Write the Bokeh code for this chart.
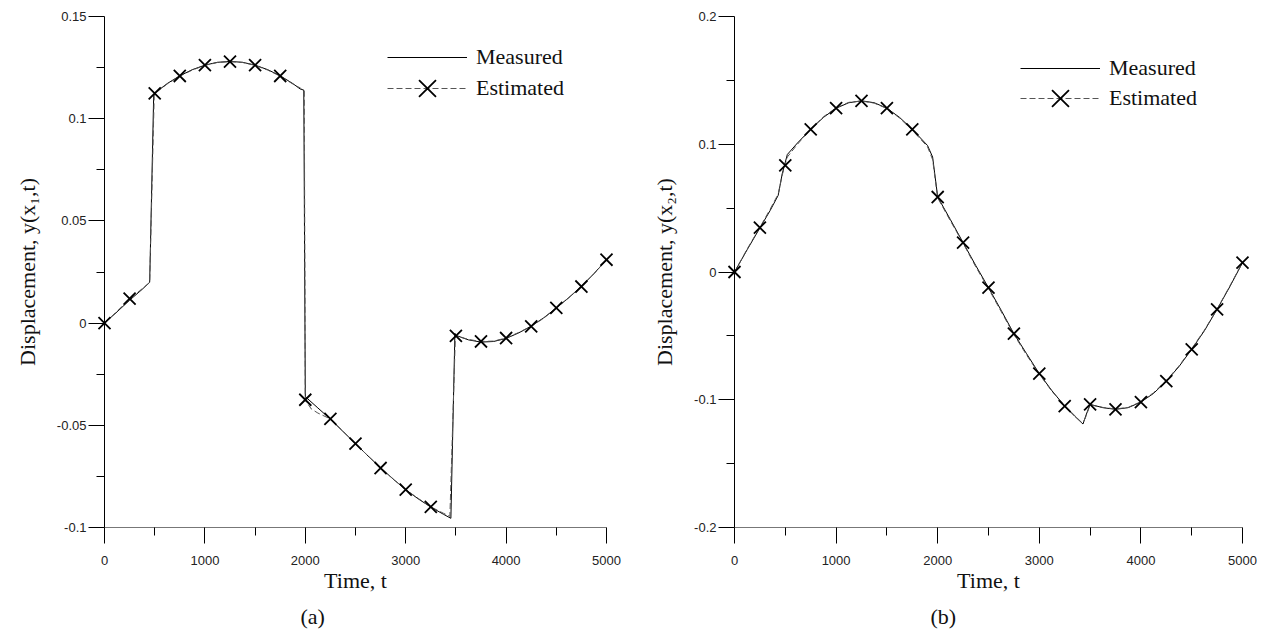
from bokeh.plotting import figure
from bokeh.layouts import row
from bokeh.models import (Range1d, FixedTicker, Legend, LegendItem, Title,
                          CustomJSTickFormatter)
from bokeh.embed import file_html
from bokeh.resources import INLINE

# ---------------- data: panel (a) ----------------
meas_a_t = [0, 125, 250, 375, 450, 490, 500, 625, 750, 875, 1000, 1125, 1250, 1375,
            1500, 1625, 1750, 1875, 1950, 1985, 2000, 2125, 2250, 2375, 2500, 2625,
            2750, 2875, 3000, 3125, 3250, 3375, 3450, 3490, 3500, 3625, 3750, 3875,
            4000, 4125, 4250, 4375, 4500, 4625, 4750, 4875, 5000]
meas_a_v = [0, 0.0055, 0.0112, 0.0165, 0.0200, 0.1115, 0.1125, 0.1172, 0.1210, 0.1240,
            0.1262, 0.1276, 0.1280, 0.1276, 0.1262, 0.1240, 0.1210, 0.1172, 0.1145,
            0.1140, -0.0360, -0.0415, -0.0470, -0.0530, -0.0590, -0.0650, -0.0708,
            -0.0763, -0.0815, -0.0860, -0.0900, -0.0935, -0.0955, -0.0050, -0.0060,
            -0.0082, -0.0093, -0.0090, -0.0075, -0.0048, -0.0015, 0.0026, 0.0074,
            0.0125, 0.0180, 0.0242, 0.0310]
est_a_t = [0, 125, 250, 375, 450, 495, 500, 625, 750, 875, 1000, 1125, 1250, 1375,
           1500, 1625, 1750, 1875, 1950, 1990, 2000, 2060, 2125, 2250, 2375, 2500, 2625,
           2750, 2875, 3000, 3125, 3250, 3375, 3440, 3495, 3500, 3625, 3750, 3875,
           4000, 4125, 4250, 4375, 4500, 4625, 4750, 4875, 5000]
est_a_v = [0, 0.0058, 0.0118, 0.0168, 0.0198, 0.1110, 0.1122, 0.1170, 0.1208, 0.1238,
           0.1261, 0.1275, 0.1279, 0.1275, 0.1261, 0.1238, 0.1208, 0.1170, 0.1150,
           0.1135, -0.0378, -0.0420, -0.0440, -0.0469, -0.0528, -0.0590, -0.0650,
           -0.0709, -0.0762, -0.0815, -0.0858, -0.0899, -0.0930, -0.0945, -0.0060,
           -0.0062, -0.0080, -0.0090, -0.0088, -0.0073, -0.0046, -0.0016, 0.0024,
           0.0074, 0.0124, 0.0179, 0.0241, 0.0310]
mark_t = [0, 250, 500, 750, 1000, 1250, 1500, 1750, 2000, 2250, 2500, 2750, 3000,
          3250, 3500, 3750, 4000, 4250, 4500, 4750, 5000]
mark_a = [0, 0.0120, 0.1124, 0.1209, 0.1262, 0.1279, 0.1262, 0.1209, -0.0375, -0.0469,
          -0.0590, -0.0709, -0.0815, -0.0899, -0.0062, -0.0090, -0.0073, -0.0016,
          0.0074, 0.0179, 0.0310]

# ---------------- data: panel (b) ----------------
meas_b_t = [0, 125, 250, 350, 430, 470, 520, 620, 750, 875, 1000, 1125, 1250, 1375,
            1500, 1625, 1750, 1900, 1950, 2000, 2125, 2250, 2375, 2500, 2625, 2750,
            2875, 3000, 3125, 3250, 3350, 3430, 3460, 3500, 3625, 3750, 3875, 4000,
            4125, 4250, 4375, 4500, 4625, 4750, 4875, 5000]
meas_b_v = [0, 0.0175, 0.0345, 0.0480, 0.0600, 0.0770, 0.0920, 0.1010, 0.1117, 0.1210,
            0.1282, 0.1325, 0.1340, 0.1325, 0.1282, 0.1210, 0.1117, 0.0990, 0.0900,
            0.0587, 0.0410, 0.0230, 0.0050, -0.0123, -0.0300, -0.0483, -0.0640,
            -0.0796, -0.0930, -0.1050, -0.1130, -0.1190, -0.1120, -0.1036, -0.1062,
            -0.1075, -0.1062, -0.1018, -0.0950, -0.0854, -0.0740, -0.0605, -0.0460,
            -0.0292, -0.0115, 0.0073]
est_b_t = [0, 125, 250, 350, 430, 470, 520, 620, 750, 875, 1000, 1125, 1250, 1375,
           1500, 1625, 1750, 1900, 1950, 2000, 2125, 2250, 2375, 2500, 2625, 2750,
           2875, 3000, 3125, 3250, 3350, 3420, 3450, 3500, 3625, 3750, 3875, 4000,
           4125, 4250, 4375, 4500, 4625, 4750, 4875, 5000]
est_b_v = [0, 0.0180, 0.0350, 0.0490, 0.0610, 0.0760, 0.0900, 0.1000, 0.1120, 0.1215,
           0.1285, 0.1328, 0.1338, 0.1322, 0.1280, 0.1205, 0.1110, 0.0980, 0.0880,
           0.0580, 0.0400, 0.0225, 0.0040, -0.0130, -0.0310, -0.0490, -0.0650,
           -0.0800, -0.0935, -0.1045, -0.1125, -0.1180, -0.1150, -0.1040, -0.1060,
           -0.1072, -0.1060, -0.1015, -0.0945, -0.0850, -0.0735, -0.0600, -0.0455,
           -0.0290, -0.0110, 0.0075]
mark_b = [0, 0.0347, 0.0835, 0.1117, 0.1282, 0.1340, 0.1282, 0.1117, 0.0587, 0.0230,
          -0.0123, -0.0483, -0.0796, -0.1050, -0.1036, -0.1075, -0.1018, -0.0854,
          -0.0605, -0.0292, 0.0073]

x_major = [0, 1000, 2000, 3000, 4000, 5000]
x_minor = [500, 1500, 2500, 3500, 4500]
ya_major = [-0.1, -0.05, 0, 0.05, 0.1, 0.15]
ya_minor = [-0.075, -0.025, 0.025, 0.075, 0.125]
yb_major = [-0.2, -0.1, 0, 0.1, 0.2]
yb_minor = [-0.15, -0.05, 0.05, 0.15]

SERIF = "Liberation Serif"
SANS = "Liberation Sans"

fmt_code = "return String(Math.round(tick*10000)/10000);"


def make_legend(label, renderers, lx, ly):
    return Legend(items=[LegendItem(label=label, renderers=renderers)],
                  location=(lx, ly), orientation="vertical",
                  glyph_width=80, glyph_height=60, label_height=60,
                  spacing=0, padding=0, margin=0, label_standoff=9,
                  label_text_font=SERIF, label_text_font_size="22px",
                  label_text_color="#111111",
                  border_line_color=None, background_fill_alpha=0)


def make_panel(mt, mv, et, ev, mk, yr, ymaj, ymin, ylabel, tag, fw, mbl, mbr,
               leg_x, leg_y1, leg_y2):
    p = figure(frame_width=fw, frame_height=511, min_border_left=mbl,
               min_border_right=mbr, min_border_top=16, min_border_bottom=108,
               x_range=Range1d(0, 5000), y_range=Range1d(*yr),
               output_backend="svg", toolbar_location=None)
    p.outline_line_color = None
    p.xgrid.visible = False
    p.ygrid.visible = False
    p.background_fill_color = "white"

    lm = p.line(mt, mv, line_color="black", line_width=1)
    le = p.line(et, ev, line_color="#555555", line_width=1, line_dash="6 3")
    sc = p.scatter(mark_t, mk, marker="x", size=17, line_color="black",
                   line_width=1.8, level="overlay")

    for ax, maj, mnr in ((p.xaxis[0], x_major, x_minor), (p.yaxis[0], ymaj, ymin)):
        ax.ticker = FixedTicker(ticks=maj, minor_ticks=mnr)
        ax.formatter = CustomJSTickFormatter(code=fmt_code)
        ax.major_tick_in = 0
        ax.major_tick_out = 16
        ax.minor_tick_in = 0
        ax.minor_tick_out = 8
        ax.major_tick_line_color = "black"
        ax.minor_tick_line_color = "black"
        ax.major_label_text_font = SANS
        ax.major_label_text_font_size = "13px"
        ax.axis_label_text_font = SERIF
        ax.axis_label_text_font_size = "22px"
        ax.axis_label_text_font_style = "normal"
        ax.major_label_text_color = "#222222"
        ax.axis_label_text_color = "#111111"
    p.xaxis.axis_line_color = "#777777"
    p.xaxis.major_label_standoff = 12
    p.yaxis.major_label_standoff = 2
    p.xaxis.axis_label = "Time, t"
    p.xaxis.axis_label_standoff = 0
    p.yaxis.axis_label = ylabel
    p.yaxis.axis_label_standoff = 14

    p.add_layout(Title(text=tag, text_font=SERIF, text_font_size="22px",
                       text_font_style="normal", text_color="#111111",
                       align="left", offset=196, standoff=12), "below")

    p.add_layout(make_legend("Measured", [lm], leg_x, leg_y1), "center")
    p.add_layout(make_legend("Estimated", [le, sc], leg_x, leg_y2), "center")
    return p


pa = make_panel(meas_a_t, meas_a_v, est_a_t, est_a_v, mark_a, (-0.1, 0.15),
                ya_major, ya_minor, "Displacement, y(x\u2081,t)", "(a)",
                502, 104, 32, 283, 440, 409)
pb = make_panel(meas_b_t, meas_b_v, est_b_t, est_b_v, mark_b, (-0.2, 0.2),
                yb_major, yb_minor, "Displacement, y(x\u2082,t)", "(b)",
                508, 96, 15, 286, 429, 399)

layout = row(pa, pb)
open("out.html", "w").write(file_html(layout, INLINE))
